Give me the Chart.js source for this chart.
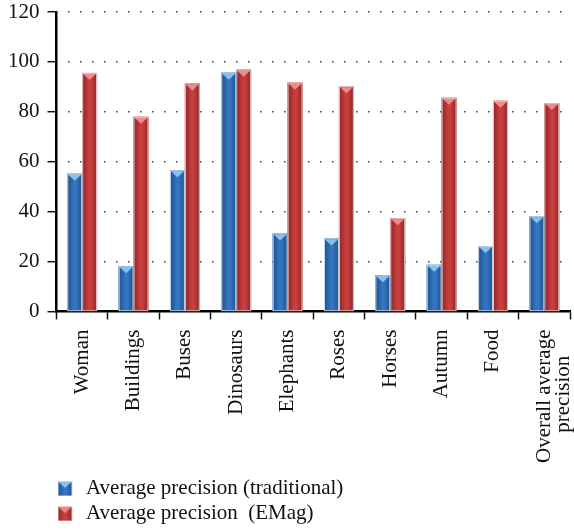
<!DOCTYPE html>
<html>
<head>
<meta charset="utf-8">
<script src="https://cdn.jsdelivr.net/npm/chart.js@4/dist/chart.umd.min.js"></script>
<style>
  html, body { margin: 0; padding: 0; background: #fff; }
  #wrap { width: 574px; height: 531px; }
</style>
</head>
<body>
<div id="wrap"><canvas id="chart"></canvas></div>
<script>
const categories = ['Woman', 'Buildings', 'Buses', 'Dinosaurs', 'Elephants', 'Roses',
  'Horses', 'Autumn', 'Food', ['Overall average', 'precision\u00A0\u00A0\u00A0\u00A0\u00A0']];
const traditional = [55.2, 18.1, 56.6, 95.7, 31.3, 29.3, 14.5, 18.7, 26.2, 38.2];
const emag = [95.6, 78.0, 91.4, 96.9, 91.7, 90.3, 37.4, 85.6, 84.4, 83.5];
const seriesNames = ['Average precision (traditional)', 'Average precision  (EMag)'];
const yTicks = [0, 20, 40, 60, 80, 100, 120];

const palettes = [
  { edge: '#1f4f8c', mid: '#3375c0', cap: '#86c1ee', rim: '#c9d9ea' },
  { edge: '#8e2424', mid: '#c83e3e', cap: '#ee8a8a', rim: '#e6c9c9' }
];

const serif = '"Liberation Serif", "DejaVu Serif", serif';

// Paints a glossy cylinder-like face onto a bar rectangle
function paintBar(ctx, left, top, width, bottom, pal) {
  const g = ctx.createLinearGradient(left, 0, left + width, 0);
  g.addColorStop(0, pal.edge);
  g.addColorStop(0.45, pal.mid);
  g.addColorStop(0.6, pal.mid);
  g.addColorStop(1, pal.edge);
  ctx.fillStyle = g;
  ctx.fillRect(left, top, width, bottom - top);
  // lighter cap triangle at the top
  const capH = Math.min(6, (bottom - top) / 2);
  ctx.fillStyle = pal.cap;
  ctx.beginPath();
  ctx.moveTo(left + 1, top + 1);
  ctx.lineTo(left + width - 1, top + 1);
  ctx.lineTo(left + width / 2, top + 1 + capH);
  ctx.closePath();
  ctx.fill();
  ctx.strokeStyle = pal.rim;
  ctx.lineWidth = 1;
  ctx.strokeRect(left + 0.5, top + 0.5, width - 1, bottom - top - 0.5);
}

// Legend swatch: 15px square drawn at the left of a slightly wider transparent image
function legendSwatch(pal) {
  const c = document.createElement('canvas');
  c.width = 21; c.height = 15;
  paintBar(c.getContext('2d'), 0, 0, 15, 15, pal);
  return c;
}

const glossyBars = {
  id: 'glossyBars',
  afterDatasetDraw(chart, args) {
    const ctx = chart.ctx;
    const pal = palettes[args.index];
    const area = chart.chartArea;
    ctx.save();
    ctx.beginPath();
    ctx.rect(area.left, area.top - 2, area.right - area.left, area.bottom - area.top + 2);
    ctx.clip();
    args.meta.data.forEach(bar => {
      const { x, y, base, width } = bar.getProps(['x', 'y', 'base', 'width'], true);
      paintBar(ctx, x - width / 2, y, width, base, pal);
    });
    ctx.restore();
  }
};

new Chart(document.getElementById('chart'), {
  type: 'bar',
  data: {
    labels: categories,
    datasets: [
      { label: seriesNames[0], data: traditional, backgroundColor: palettes[0].mid },
      { label: seriesNames[1], data: emag, backgroundColor: palettes[1].mid }
    ]
  },
  plugins: [glossyBars],
  options: {
    responsive: true,
    maintainAspectRatio: false,
    animation: false,
    datasets: { bar: { barPercentage: 1, categoryPercentage: 0.58 } },
    layout: { padding: { top: 0, right: 4, bottom: -3, left: 0 } },
    plugins: {
      tooltip: { enabled: false },
      legend: {
        position: 'bottom',
        align: 'start',
        fullSize: false,
        labels: {
          usePointStyle: true,
          boxWidth: 15,
          boxHeight: 15,
          padding: 4,
          color: '#111',
          font: { family: serif, size: 21 },
          generateLabels(chart) {
            return chart.data.datasets.map((ds, i) => ({
              text: ds.label,
              pointStyle: legendSwatch(palettes[i]),
              fillStyle: palettes[i].mid,
              strokeStyle: palettes[i].mid,
              lineWidth: 0,
              hidden: false,
              datasetIndex: i,
              fontColor: '#111'
            }));
          }
        }
      }
    },
    scales: {
      x: {
        afterFit(scale) {
          scale.paddingLeft = 0;
          scale.paddingRight = 0;
          scale.height += 1;
        },
        grid: {
          drawOnChartArea: false,
          drawTicks: true,
          tickLength: 8,
          tickColor: '#111',
          tickWidth: 1.5,
          offset: true
        },
        border: { display: true, color: '#000', width: 2.5 },
        ticks: {
          minRotation: 90,
          maxRotation: 90,
          autoSkip: false,
          padding: 10,
          color: '#111',
          font: { family: serif, size: 21, lineHeight: 0.9 }
        }
      },
      y: {
        min: 0,
        max: 120,
        afterBuildTicks(scale) {
          scale.ticks = yTicks.map(v => ({ value: v }));
        },
        afterFit(scale) {
          scale.paddingTop = 12;
        },
        grid: {
          color: (c) => c.tick && c.tick.value === 0 ? 'rgba(0,0,0,0)' : '#333',
          lineWidth: 1.4,
          drawTicks: true,
          tickLength: 9,
          tickColor: '#111',
          tickWidth: 1.5,
          tickBorderDash: []
        },
        border: { display: true, color: '#000', width: 2.5, dash: [1.4, 10.6], dashOffset: 1.4 },
        ticks: {
          padding: 8,
          color: '#111',
          font: { family: serif, size: 21 }
        }
      }
    }
  }
});
</script>
</body>
</html>
